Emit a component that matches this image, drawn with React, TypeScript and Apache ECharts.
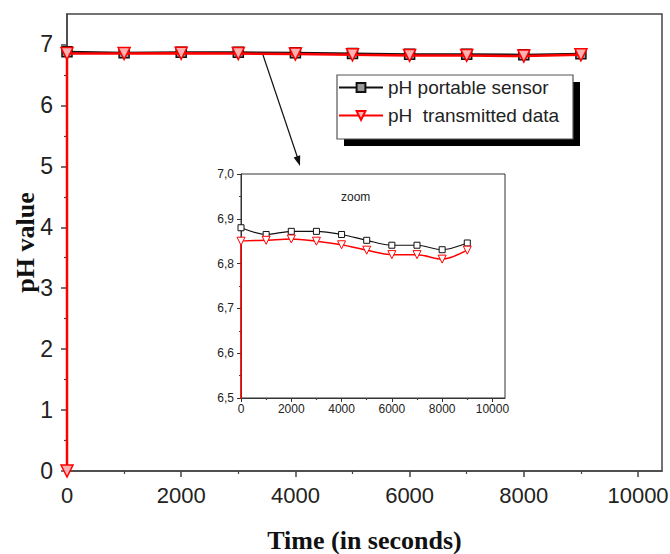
import React, { useEffect, useRef } from "react";
import * as echarts from "echarts";

const timeSec = [0, 1000, 2000, 3000, 4000, 5000, 6000, 7000, 8000, 9000];
const sensorPH = [6.88, 6.865, 6.872, 6.872, 6.865, 6.852, 6.841, 6.841, 6.831, 6.846];
const transmittedTime = [0, 0, 1000, 2000, 3000, 4000, 5000, 6000, 7000, 8000, 9000];
const transmittedPH = [0, 6.85, 6.852, 6.855, 6.85, 6.842, 6.83, 6.82, 6.82, 6.81, 6.83];

const mainXTicks = [0, 2000, 4000, 6000, 8000, 10000];
const mainXMinor = [1000, 3000, 5000, 7000, 9000];
const mainYTicks = [0, 1, 2, 3, 4, 5, 6, 7];
const mainYMinor = [0.5, 1.5, 2.5, 3.5, 4.5, 5.5, 6.5];
const insetXTicks = [0, 2000, 4000, 6000, 8000, 10000];
const insetXMinor = [1000, 3000, 5000, 7000, 9000];
const insetYTicks = [6.5, 6.6, 6.7, 6.8, 6.9, 7.0];
const insetYMinor = [6.55, 6.65, 6.75, 6.85, 6.95];

const seriesNames = ["pH portable sensor", "pH  transmitted data"];

const SANS = "'Liberation Sans', Arial, sans-serif";
const SERIF = "'Liberation Serif', 'Times New Roman', serif";

export default function App() {
  const ref = useRef<HTMLDivElement>(null);
  useEffect(() => {
    if (!ref.current) return;
    const chart = echarts.init(ref.current, undefined, { renderer: "svg" });
    const sensorData = timeSec.map((t, i) => [t, sensorPH[i]]);
    const transData = transmittedTime.map((t, i) => [t, transmittedPH[i]]);

    const mainAxisCommon = {
      axisLine: { show: true, lineStyle: { color: "#444", width: 1.5 } },
      splitLine: { show: false },
    };
    const minorAxis = (gridIndex: number, min: number, max: number, vals: number[], pos: string, len: number) => ({
      type: "value",
      gridIndex,
      min,
      max,
      position: pos,
      axisLine: { show: false },
      axisLabel: { show: false },
      splitLine: { show: false },
      axisTick: { show: true, customValues: vals, length: len, lineStyle: { color: "#444", width: 1.2 } },
    });
    const plain = (v: number) => String(v);

    const option: any = {
      animation: false,
      backgroundColor: "#fff",
      grid: [
        {
          left: 67, right: 8, top: 14, bottom: 83,
          show: true, borderColor: "#444", borderWidth: 1.5,
          outerBoundsMode: "none",
        },
        {
          left: 241, top: 174, width: 264, height: 224,
          show: true, backgroundColor: "#fff", borderColor: "#333", borderWidth: 1,
          outerBoundsMode: "none",
        },
      ],
      legend: {
        left: 338,
        top: 78,
        padding: 0,
        orient: "vertical",
        itemGap: 9,
        itemWidth: 44,
        itemHeight: 11,
        data: seriesNames,
        textStyle: { fontFamily: SANS, fontSize: 19, color: "#222" },
        z: 10,
      },
      xAxis: [
        {
          type: "value", gridIndex: 0, min: 0, max: 10420, position: "bottom",
          ...mainAxisCommon,
          axisTick: { show: true, customValues: mainXTicks, length: 6, lineStyle: { color: "#444", width: 1.5 } },
          axisLabel: { customValues: mainXTicks, formatter: plain, fontFamily: SANS, fontSize: 22, color: "#222", margin: 13 },
          name: "Time (in seconds)",
          nameLocation: "middle",
          nameGap: 56,
          nameTextStyle: { fontFamily: SERIF, fontWeight: "bold", fontSize: 26, color: "#111" },
        },
        minorAxis(0, 0, 10420, mainXMinor, "bottom", 3),
        {
          type: "value", gridIndex: 1, min: 0, max: 10500, position: "bottom",
          axisLine: { show: true, lineStyle: { color: "#333", width: 1 } },
          splitLine: { show: false },
          axisTick: { show: true, customValues: insetXTicks, length: 4, lineStyle: { color: "#333" } },
          axisLabel: { customValues: insetXTicks, formatter: plain, fontFamily: SANS, fontSize: 12, color: "#222", margin: 5 },
        },
        minorAxis(1, 0, 10500, insetXMinor, "bottom", 2),
      ],
      yAxis: [
        {
          type: "value", gridIndex: 0, min: 0, max: 7.5, position: "left",
          ...mainAxisCommon,
          axisTick: { show: true, customValues: mainYTicks, length: 6, lineStyle: { color: "#444", width: 1.5 } },
          axisLabel: { customValues: mainYTicks, formatter: plain, fontFamily: SANS, fontSize: 23, color: "#222", margin: 14 },
          name: "pH value",
          nameLocation: "middle",
          nameGap: 29,
          nameMoveOverlap: false,
          nameTextStyle: { fontFamily: SERIF, fontWeight: "bold", fontSize: 26, color: "#111" },
        },
        minorAxis(0, 0, 7.5, mainYMinor, "left", 3),
        {
          type: "value", gridIndex: 1, min: 6.5, max: 7.0, position: "left",
          axisLine: { show: true, lineStyle: { color: "#333", width: 1 } },
          splitLine: { show: false },
          axisTick: { show: true, customValues: insetYTicks, length: 4, lineStyle: { color: "#333" } },
          axisLabel: {
            customValues: insetYTicks, fontFamily: SANS, fontSize: 12, color: "#222", margin: 7,
            formatter: (v: number) => v.toFixed(1).replace(".", ","),
          },
        },
        minorAxis(1, 6.5, 7.0, insetYMinor, "left", 2),
      ],
      series: [
        {
          name: seriesNames[0], type: "line", xAxisIndex: 0, yAxisIndex: 0,
          data: sensorData, symbol: "rect", symbolSize: 10,
          lineStyle: { color: "#111", width: 2 },
          itemStyle: { color: "#999", borderColor: "#111", borderWidth: 1.5 },
          z: 3,
        },
        {
          name: seriesNames[1], type: "line", xAxisIndex: 0, yAxisIndex: 0,
          data: transData, symbol: "triangle", symbolRotate: 180, symbolSize: 12,
          lineStyle: { color: "#ff0000", width: 2.5 },
          itemStyle: { color: "#ffb0b0", borderColor: "#ff0000", borderWidth: 1.5 },
          z: 4,
        },
        {
          name: seriesNames[0], type: "line", xAxisIndex: 2, yAxisIndex: 2,
          data: sensorData, symbol: "rect", symbolSize: 6, smooth: 0.3, clip: true,
          lineStyle: { color: "#111", width: 1.2 },
          itemStyle: { color: "#fff", borderColor: "#111", borderWidth: 1 },
          z: 3,
        },
        {
          name: seriesNames[1], type: "line", xAxisIndex: 2, yAxisIndex: 2,
          data: transData, symbol: "triangle", symbolRotate: 180, symbolSize: 8, smooth: 0.3, clip: true,
          lineStyle: { color: "#ff0000", width: 1.5 },
          itemStyle: { color: "#fff", borderColor: "#ff0000", borderWidth: 1 },
          z: 4,
        },
      ],
      graphic: [
        { type: "rect", z: 5, shape: { x: 344, y: 82, width: 236, height: 64 }, style: { fill: "#000" } },
        { type: "rect", z: 6, shape: { x: 337, y: 75, width: 236, height: 64 }, style: { fill: "#fff", stroke: "#555", lineWidth: 1.2 } },
        { type: "line", z: 6, shape: { x1: 263, y1: 55, x2: 298, y2: 159 }, style: { stroke: "#111", lineWidth: 1.2 } },
        { type: "polygon", z: 6, shape: { points: [[300, 166], [293.6, 157.4], [300.2, 155.2]] }, style: { fill: "#111" } },
        {
          type: "text", z: 6, x: 341, y: 197,
          style: { text: "zoom", fontFamily: SANS, fontSize: 12, fill: "#222", verticalAlign: "middle" },
        },
      ],
    };
    chart.setOption(option);
    return () => chart.dispose();
  }, []);
  return <div ref={ref} style={{ position: "absolute", left: 0, top: 0, width: 670, height: 554 }} />;
}
